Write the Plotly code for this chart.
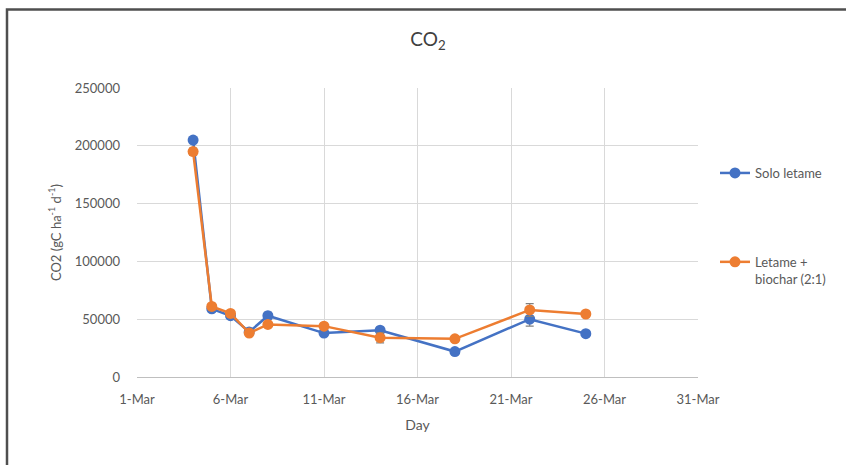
import plotly.graph_objects as go

# Sampling dates
days = ["2021-03-04", "2021-03-05", "2021-03-06", "2021-03-07", "2021-03-08",
        "2021-03-11", "2021-03-14", "2021-03-18", "2021-03-22", "2021-03-25"]

# CO2 flux (gC ha-1 d-1)
solo_letame = [205000, 59000, 53000, 39000, 53000, 38000, 40500, 22000, 50000, 37500]
solo_letame_err = [2000, 2500, 2000, 1500, 3000, 1500, 1500, 1000, 6000, 1500]

letame_biochar = [195000, 61000, 55000, 38000, 45500, 44000, 34000, 33000, 58000, 54500]
letame_biochar_err = [3000, 2500, 2000, 1500, 1500, 1500, 4500, 1500, 5500, 1500]

series_names = ["Solo letame", "Letame +<br>biochar (2:1)"]
colors = ["#4472C4", "#ED7D31"]

FONT = "Lato, 'Open Sans', sans-serif"
TXT = "#595959"
GRID = "#D9D9D9"

fig = go.Figure()
for i, (vals, errs) in enumerate([(solo_letame, solo_letame_err),
                                   (letame_biochar, letame_biochar_err)]):
    fig.add_trace(go.Scatter(
        x=days, y=vals, name=series_names[i], legendgroup=str(i),
        mode="lines+markers",
        line=dict(color=colors[i], width=2.5),
        marker=dict(color=colors[i], size=11),
        error_y=dict(type="data", array=errs, visible=True,
                     color="#808080", thickness=1.2, width=4),
    ))

L, R, T, B = 137, 148, 88, 88
W, H = 846, 465
pw, ph = W - L - R, H - T - B

fig.update_layout(
    width=W, height=H,
    margin=dict(l=L, r=R, t=T, b=B),
    paper_bgcolor="white", plot_bgcolor="white",
    font=dict(family=FONT, color=TXT, size=13),
    title=dict(text="CO<sub>2</sub>", x=428 / W, xref="container", xanchor="center",
               y=1 - 39 / H, yref="container", yanchor="middle",
               font=dict(size=19, color="#404040")),
    showlegend=True,
    legend=dict(x=(715 - L) / pw, xanchor="left", y=1 - (158 - T) / ph, yanchor="top",
                tracegroupgap=69, valign="top",
                font=dict(size=13, color=TXT), bgcolor="rgba(0,0,0,0)",
                itemwidth=30),
    xaxis=dict(
        type="date", range=["2021-03-01", "2021-03-31"],
        tick0="2021-03-01", dtick=5 * 86400000, tickformat="%-d-%b",
        showgrid=True, gridcolor=GRID, gridwidth=1,
        showline=True, linecolor="#BFBFBF", linewidth=1,
        ticks="", ticklabelstandoff=10,
        tickfont=dict(size=13, color=TXT),
        title=dict(text="Day", font=dict(size=14, color=TXT), standoff=14),
        zeroline=False,
    ),
    yaxis=dict(
        range=[0, 250000], dtick=50000, tickformat="d",
        showgrid=True, gridcolor=GRID, gridwidth=1,
        showline=False, zeroline=False, ticks="",
        ticklabelstandoff=16,
        tickfont=dict(size=13, color=TXT),
        title=dict(text="CO2 (gC ha<sup>-1</sup> d<sup>-1</sup>)",
                   font=dict(size=13, color=TXT), standoff=10),
    ),
    shapes=[dict(
        type="rect", xref="paper", yref="paper",
        x0=(7 - L) / pw, x1=(W + 5 - L) / pw,
        y0=1 - (H + 5 - T) / ph, y1=1 + (T - 9.5) / ph,
        line=dict(color="#4F4F4F", width=2.5), fillcolor="rgba(0,0,0,0)",
        layer="below",
    )],
)

fig.write_html("out.html")
